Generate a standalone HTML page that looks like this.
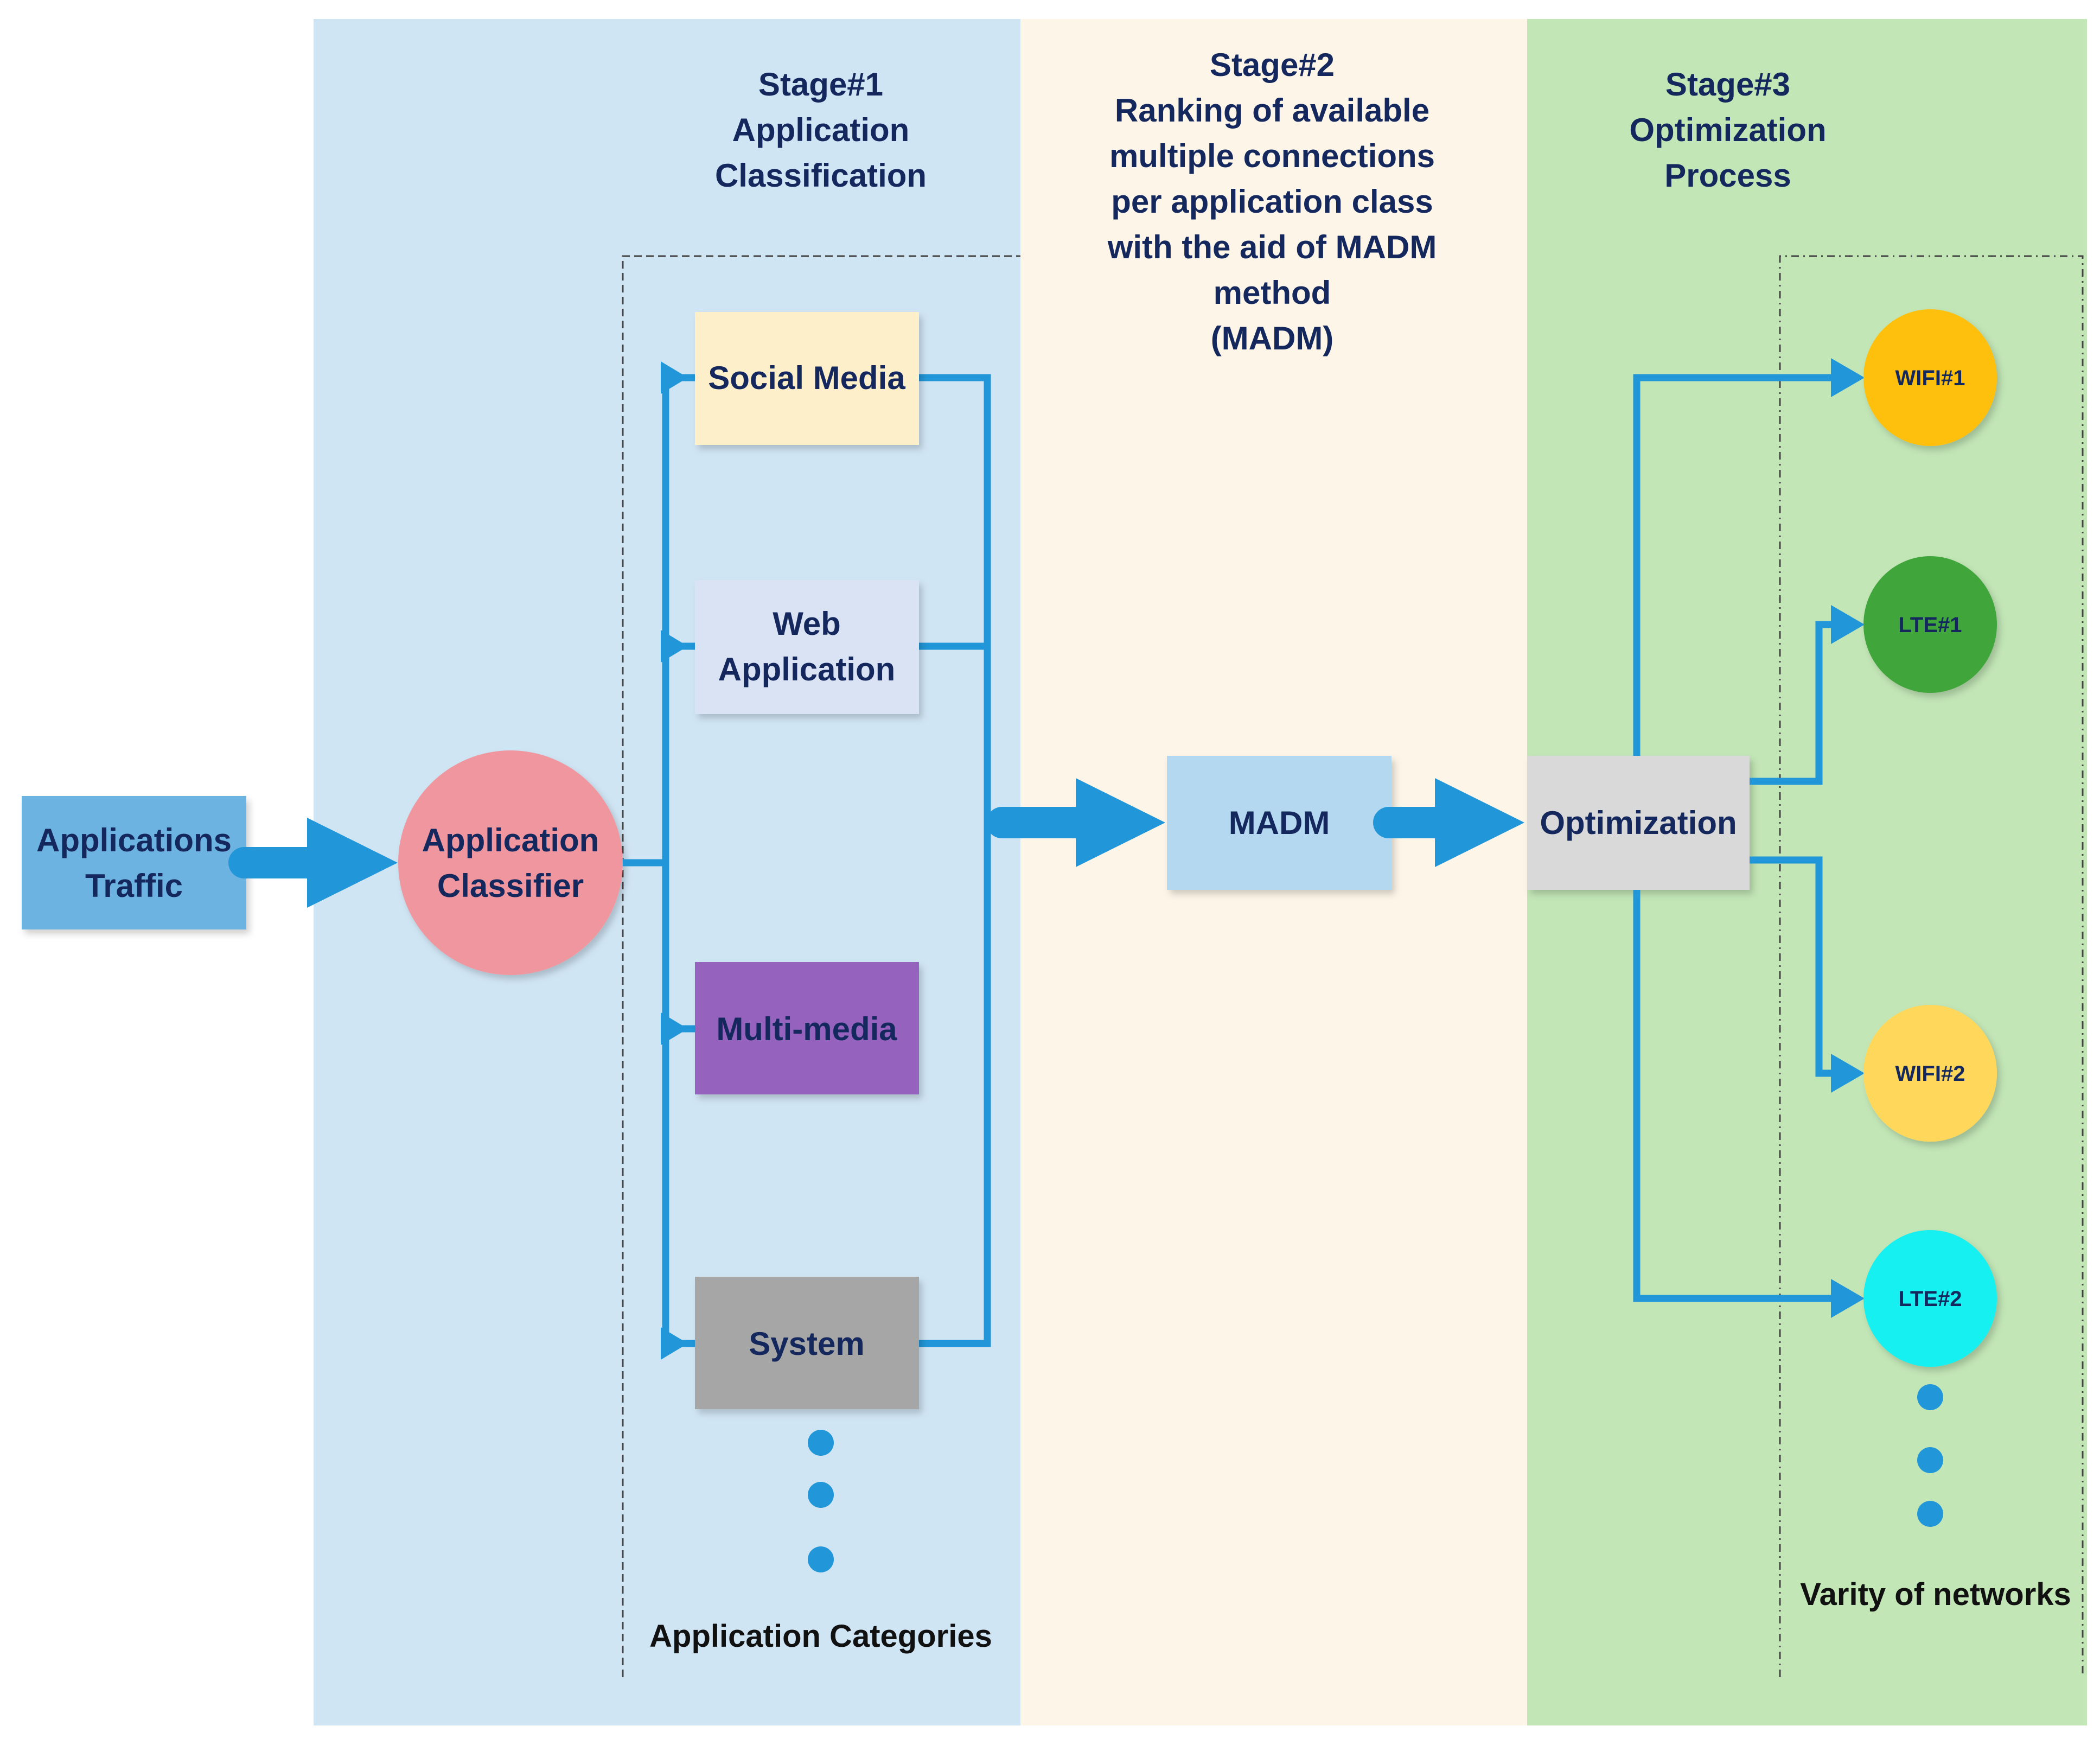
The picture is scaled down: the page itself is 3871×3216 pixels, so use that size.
<!DOCTYPE html>
<html><head><meta charset="utf-8"><style>
html,body{margin:0;padding:0;background:#fff}
svg{display:block}
text{font-family:"Liberation Sans",sans-serif;font-weight:bold;fill:#14285e;text-anchor:middle}
</style></head><body>
<svg width="3871" height="3216" viewBox="0 0 3871 3216" xmlns="http://www.w3.org/2000/svg">
<defs>
<filter id="sh" x="-10%" y="-10%" width="125%" height="130%"><feDropShadow dx="6" dy="8" stdDeviation="6" flood-color="#000" flood-opacity="0.18"/></filter>
</defs>
<!-- panels -->
<rect x="578" y="35" width="1303" height="3145" fill="#d0e5f4"/>
<rect x="1881" y="35" width="934" height="3145" fill="#fdf6e8"/>
<rect x="2815" y="35" width="1032" height="3145" fill="#c2e6b6"/>

<!-- dashed boxes -->
<path d="M1148 3091 V472 H1881" fill="none" stroke="#444" stroke-width="3" stroke-dasharray="14 8"/>
<path d="M3281 3091 V472 H3839 V3091" fill="none" stroke="#444" stroke-width="3" stroke-dasharray="14 8 3 8"/>

<!-- titles -->
<g font-size="60">
<text x="1513" y="176">Stage#1</text>
<text x="1513" y="260">Application</text>
<text x="1513" y="344">Classification</text>
<text x="2345" y="140">Stage#2</text>
<text x="2345" y="224">Ranking of available</text>
<text x="2345" y="308">multiple connections</text>
<text x="2345" y="392">per application class</text>
<text x="2345" y="476">with the aid of MADM</text>
<text x="2345" y="560">method</text>
<text x="2345" y="644">(MADM)</text>
<text x="3185" y="176">Stage#3</text>
<text x="3185" y="260">Optimization</text>
<text x="3185" y="344">Process</text>
</g>

<!-- Applications Traffic -->
<rect x="40" y="1467" width="414" height="246" fill="#6db3e2" filter="url(#sh)"/>
<text x="247" y="1569" font-size="60">Applications</text>
<text x="247" y="1653" font-size="60">Traffic</text>
<!-- big arrow 1 -->
<path d="M450 1561 H566 V1507 L733 1590 L566 1673 V1619 H450 A29 29 0 0 1 450 1561Z" fill="#2196d8"/>

<!-- classifier -->
<circle cx="941" cy="1590" r="207" fill="#f0969f" filter="url(#sh)"/>
<text x="941" y="1569" font-size="60">Application</text>
<text x="941" y="1653" font-size="60">Classifier</text>

<!-- buses -->
<g stroke="#2196d8" stroke-width="13" fill="none">
<path d="M1148 1590 H1227"/>
<path d="M1227 696 V2476"/>
<path d="M1227 696 H1281 M1227 1191 H1281 M1227 1896 H1281 M1227 2476 H1281"/>
<path d="M1694 696 H1820 V2476 H1694 M1694 1191 H1820"/>
</g>
<g fill="#2196d8">
<path d="M1218 666 L1268 696 L1218 726Z"/>
<path d="M1218 1161 L1268 1191 L1218 1221Z"/>
<path d="M1218 1866 L1268 1896 L1218 1926Z"/>
<path d="M1218 2446 L1268 2476 L1218 2506Z"/>
</g>

<!-- category boxes -->
<rect x="1281" y="575" width="413" height="245" fill="#fdefc9" filter="url(#sh)"/>
<text x="1487" y="717" font-size="60">Social Media</text>
<rect x="1281" y="1069" width="413" height="247" fill="#dae3f4" filter="url(#sh)"/>
<text x="1487" y="1170" font-size="60">Web</text>
<text x="1487" y="1254" font-size="60">Application</text>
<rect x="1281" y="1773" width="413" height="244" fill="#9564bd" filter="url(#sh)"/>
<text x="1487" y="1917" font-size="60">Multi-media</text>
<rect x="1281" y="2353" width="413" height="244" fill="#a6a6a6" filter="url(#sh)"/>
<text x="1487" y="2497" font-size="60">System</text>

<g fill="#2196d8">
<circle cx="1513" cy="2659" r="24"/><circle cx="1513" cy="2755" r="24"/><circle cx="1513" cy="2874" r="24"/>
<circle cx="3558" cy="2575" r="24"/><circle cx="3558" cy="2691" r="24"/><circle cx="3558" cy="2790" r="24"/>
</g>
<text x="1513" y="3035" font-size="58" fill="#111" style="fill:#111">Application  Categories</text>
<text x="3568" y="2958" font-size="58" style="fill:#111">Varity of networks</text>

<!-- arrow 2 -->
<path d="M1847 1487 H1983 V1434 L2148 1516 L1983 1598 V1545 H1847 A29 29 0 0 1 1847 1487Z" fill="#2196d8"/>
<rect x="2151" y="1393" width="414" height="247" fill="#b4d8f0" filter="url(#sh)"/>
<text x="2358" y="1537" font-size="60">MADM</text>
<!-- arrow 3 -->
<path d="M2560 1487 H2645 V1434 L2810 1516 L2645 1598 V1545 H2560 A29 29 0 0 1 2560 1487Z" fill="#2196d8"/>
<rect x="2815" y="1393" width="410" height="247" fill="#d9d9d9" filter="url(#sh)"/>
<text x="3020" y="1537" font-size="60">Optimization</text>

<!-- optimization connectors -->
<g stroke="#2196d8" stroke-width="13" fill="none">
<path d="M3017 1393 V696 H3395"/>
<path d="M3225 1440 H3353 V1151 H3395"/>
<path d="M3225 1585 H3353 V1978 H3395"/>
<path d="M3017 1640 V2393 H3395"/>
</g>
<g fill="#2196d8">
<path d="M3375 660 L3437 696 L3375 732Z"/>
<path d="M3375 1115 L3437 1151 L3375 1187Z"/>
<path d="M3375 1942 L3437 1978 L3375 2014Z"/>
<path d="M3375 2357 L3437 2393 L3375 2429Z"/>
</g>

<!-- network circles -->
<g filter="url(#sh)">
<ellipse cx="3558" cy="696" rx="123" ry="126" fill="#fec00f"/>
<ellipse cx="3558" cy="1151" rx="123" ry="126" fill="#3fa53a"/>
<ellipse cx="3558" cy="1978" rx="123" ry="126" fill="#ffd75a"/>
<ellipse cx="3558" cy="2393" rx="123" ry="126" fill="#14f0f0"/>
</g>
<g font-size="40">
<text x="3558" y="710">WIFI#1</text>
<text x="3558" y="1165">LTE#1</text>
<text x="3558" y="1992">WIFI#2</text>
<text x="3558" y="2407">LTE#2</text>
</g>
</svg>
</body></html>
